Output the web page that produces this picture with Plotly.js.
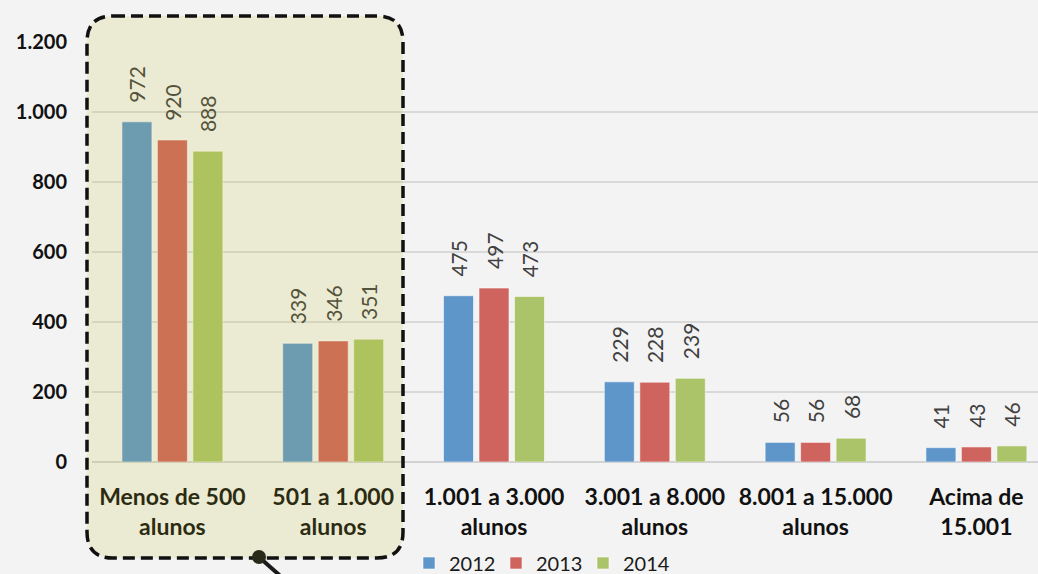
<!DOCTYPE html>
<html>
<head>
<meta charset="utf-8">
<script src="https://cdn.plot.ly/plotly-3.0.1.min.js"></script>
<style>
html,body{margin:0;padding:0;background:#f3f3f3;}
#chart{width:1038px;height:574px;}
</style>
</head>
<body>
<div id="chart"></div>
<script>
const categories = [
  "Menos de 500<br>alunos",
  "501 a 1.000<br>alunos",
  "1.001 a 3.000<br>alunos",
  "3.001 a 8.000<br>alunos",
  "8.001 a 15.000<br>alunos",
  "Acima de<br>15.001"
];
const seriesNames = ["2012", "2013", "2014"];
const values2012 = [972, 339, 475, 229, 56, 41];
const values2013 = [920, 346, 497, 228, 56, 43];
const values2014 = [888, 351, 473, 239, 68, 46];
const yTicks = [0, 200, 400, 600, 800, 1000, 1200];

const colors = ["#5f96ca", "#cf645e", "#abc46a"];
const allValues = [values2012, values2013, values2014];

const W = 1038, H = 574, ML = 92, MT = 42, MB = 112, MR = 0;
const PW = W - ML - MR, PH = H - MT - MB;
const px = v => (v - ML) / PW;
const py = v => (H - MB - v) / PH;

const traces = allValues.map((vals, i) => ({
  type: "bar",
  name: seriesNames[i],
  x: categories,
  y: vals,
  marker: { color: colors[i], line: { color: "rgba(255,255,255,0.55)", width: 1 } },
  text: vals.map(v => "\u00a0\u00a0\u00a0" + v),
  textposition: "outside",
  textangle: -90,
  constraintext: "none",
  cliponaxis: false,
  textfont: { family: "Lato, sans-serif", size: 21, color: "#404040" },
  hoverinfo: "skip"
}));

// rounded rectangle highlight (pixel geometry converted to paper coords)
function roundRect(x0, y0, x1, y1, r) {
  const P = (a, b) => px(a).toFixed(5) + "," + py(b).toFixed(5);
  return "M" + P(x0 + r, y0) + " L" + P(x1 - r, y0) + " Q" + P(x1, y0) + " " + P(x1, y0 + r) +
    " L" + P(x1, y1 - r) + " Q" + P(x1, y1) + " " + P(x1 - r, y1) +
    " L" + P(x0 + r, y1) + " Q" + P(x0, y1) + " " + P(x0, y1 - r) +
    " L" + P(x0, y0 + r) + " Q" + P(x0, y0) + " " + P(x0 + r, y0) + " Z";
}

const shapes = [
  { type: "path", xref: "paper", yref: "paper", layer: "above",
    path: roundRect(87, 16, 403, 558, 26),
    fillcolor: "rgba(197,190,24,0.15)",
    line: { color: "#111", width: 3.5, dash: "12px,6px" } },
  { type: "line", xref: "paper", yref: "paper", layer: "above",
    x0: px(260), y0: py(558), x1: px(285), y1: py(580),
    line: { color: "#1a1a1a", width: 4 } },
  { type: "circle", xref: "paper", yref: "paper", layer: "above",
    x0: px(252), y0: py(550), x1: px(266), y1: py(564),
    fillcolor: "#2a2a1a", line: { width: 0 } }
];

const layout = {
  width: W, height: H,
  margin: { l: ML, r: MR, t: MT, b: MB, pad: 0, autoexpand: false },
  paper_bgcolor: "#f3f3f3",
  plot_bgcolor: "#f3f3f3",
  separators: ",.",
  barmode: "group",
  bargap: 0.338,
  bargroupgap: 0.155,
  showlegend: true,
  legend: {
    orientation: "h", x: px(409), xanchor: "left", y: py(563), yanchor: "middle",
    font: { family: "Lato, sans-serif", size: 20, color: "#1a1a1a" },
    bgcolor: "rgba(0,0,0,0)", entrywidth: 42, entrywidthmode: "pixels",
    itemclick: false
  },
  xaxis: {
    type: "category",
    range: [-0.5, -0.5 + PW / 160.8],
    showgrid: false, zeroline: false, showline: false,
    ticks: "outside", ticklen: 14, tickcolor: "rgba(0,0,0,0)",
    tickangle: 0, automargin: false,
    tickfont: { family: "Lato, sans-serif", size: 23, color: "#111", weight: 700 },
    fixedrange: true
  },
  yaxis: {
    range: [0, 1200],
    tickvals: yTicks,
    tickformat: ",d",
    showgrid: true, gridcolor: "#d9d9d9", gridwidth: 1.5,
    zeroline: true, zerolinecolor: "#d2d2d2", zerolinewidth: 2,
    showline: false, automargin: false,
    ticks: "outside", ticklen: 20, tickcolor: "rgba(0,0,0,0)",
    tickfont: { family: "Lato, sans-serif", size: 20, color: "#111", weight: 700 },
    fixedrange: true
  },
  shapes: shapes
};

Plotly.newPlot("chart", traces, layout, { displayModeBar: false, staticPlot: true });
</script>
</body>
</html>
